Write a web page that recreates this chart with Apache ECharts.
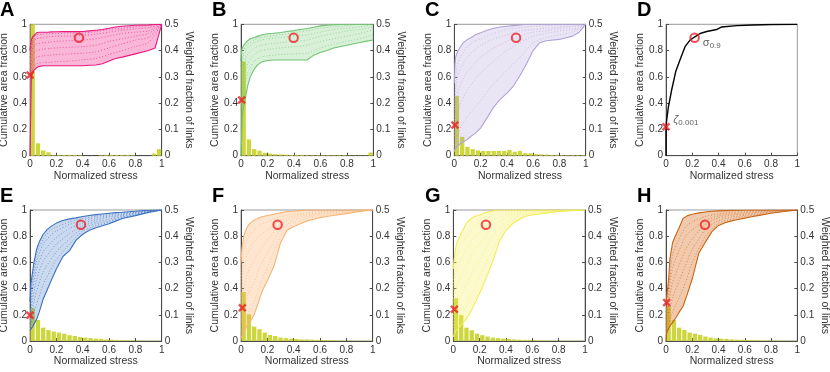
<!DOCTYPE html>
<html><head><meta charset="utf-8">
<script src="https://cdn.jsdelivr.net/npm/echarts@6/dist/echarts.min.js"></script>
<style>html,body{margin:0;padding:0;background:#fff}#c{width:830px;height:372px}</style>
</head><body><div id="c"></div>
<script>
// ---------- data ----------
const stress = [0,0.005,0.01,0.02,0.03,0.05,0.07,0.1,0.13,0.16,0.2,0.25,0.3,0.35,0.4,0.45,0.5,0.55,0.6,0.65,0.7,0.8,0.9,0.95,1];
const stressDotted = [0,0.02,0.05,0.1,0.15,0.2,0.3,0.4,0.5,0.6,0.7,0.8,0.9,1];
const binCenters = ['0.02','0.06','0.10','0.14','0.18','0.22','0.26','0.30','0.34','0.38','0.42','0.46','0.50','0.54','0.58','0.62','0.66','0.70','0.74','0.78','0.82','0.86','0.90','0.94','0.98'];

const lowerA = [0,0.3,0.6,0.63,0.65,0.67,0.68,0.685,0.685,0.685,0.685,0.685,0.685,0.685,0.685,0.688,0.69,0.7,0.72,0.74,0.75,0.775,0.8,0.82,1];
const upperA = [0.8,0.85,0.88,0.905,0.92,0.935,0.94,0.94,0.94,0.942,0.943,0.944,0.944,0.944,0.945,0.95,0.955,0.96,0.97,0.98,0.985,0.993,0.996,0.998,1];
const dotA1 = [0.6,0.66,0.7,0.71,0.71,0.715,0.72,0.73,0.74,0.77,0.8,0.83,0.86,1];
const dotA2 = [0.62,0.72,0.75,0.76,0.765,0.77,0.775,0.78,0.79,0.82,0.85,0.88,0.9,1];
const dotA3 = [0.65,0.77,0.8,0.81,0.815,0.82,0.825,0.83,0.84,0.87,0.89,0.91,0.93,1];
const dotA4 = [0.7,0.82,0.85,0.86,0.865,0.87,0.875,0.88,0.89,0.91,0.93,0.94,0.95,1];
const dotA5 = [0.75,0.86,0.89,0.9,0.905,0.91,0.91,0.915,0.925,0.94,0.955,0.965,0.975,1];
const dotA6 = [0.78,0.89,0.92,0.925,0.93,0.93,0.935,0.935,0.945,0.96,0.97,0.98,0.99,1];
const histA = [0.6,0.047,0.02,0.013,0.002,0.003,0.003,0.003,0.003,0.002,0,0,0,0.002,0.003,0.003,0.003,0.003,0.003,0.002,0,0,0,0.008,0.025];

const lowerB = [0,0.15,0.3,0.38,0.42,0.53,0.6,0.66,0.695,0.715,0.725,0.728,0.728,0.728,0.728,0.728,0.728,0.765,0.785,0.8,0.82,0.84,0.862,0.872,0.88];
const upperB = [0.72,0.8,0.82,0.84,0.855,0.875,0.89,0.9,0.91,0.92,0.928,0.932,0.938,0.945,0.952,0.96,0.968,0.978,0.988,0.994,0.997,1,1,1,1];
const dotB1 = [0.2,0.5,0.63,0.72,0.75,0.76,0.77,0.775,0.78,0.82,0.85,0.87,0.89,0.92];
const dotB2 = [0.35,0.6,0.7,0.77,0.8,0.81,0.82,0.83,0.84,0.87,0.89,0.91,0.93,0.96];
const dotB3 = [0.5,0.7,0.77,0.82,0.84,0.85,0.86,0.87,0.88,0.91,0.93,0.95,0.96,0.98];
const dotB4 = [0.6,0.76,0.82,0.86,0.88,0.89,0.9,0.91,0.92,0.94,0.96,0.97,0.98,1];
const dotB5 = [0.68,0.8,0.85,0.88,0.9,0.91,0.92,0.935,0.95,0.97,0.98,0.99,1,1];
const histB = [0.358,0.062,0.025,0.019,0.011,0.008,0.006,0.005,0.004,0.003,0.003,0.003,0.002,0.002,0.002,0.002,0.002,0.002,0.002,0.002,0.001,0.001,0.001,0.001,0.012];

const lowerC = [0.03,0.05,0.06,0.07,0.08,0.095,0.105,0.125,0.15,0.17,0.21,0.29,0.37,0.43,0.475,0.53,0.61,0.7,0.8,0.86,0.875,0.885,0.91,0.94,1];
const upperC = [0.55,0.7,0.75,0.78,0.8,0.835,0.86,0.885,0.9,0.92,0.935,0.955,0.97,0.98,0.985,0.99,0.995,1,1,1,1,1,1,1,1];
const dotC1 = [0.08,0.15,0.22,0.3,0.36,0.42,0.55,0.65,0.75,0.86,0.9,0.92,0.94,1];
const dotC2 = [0.15,0.3,0.4,0.5,0.57,0.63,0.72,0.8,0.86,0.91,0.93,0.95,0.96,1];
const dotC3 = [0.25,0.45,0.55,0.64,0.7,0.75,0.82,0.87,0.91,0.94,0.95,0.97,0.98,1];
const dotC4 = [0.35,0.58,0.67,0.75,0.8,0.84,0.89,0.92,0.95,0.96,0.97,0.98,0.99,1];
const dotC5 = [0.45,0.68,0.76,0.83,0.87,0.89,0.93,0.96,0.975,0.985,0.99,0.995,1,1];
const histC = [0.227,0.072,0.034,0.025,0.02,0.018,0.018,0.018,0.018,0.018,0.022,0.015,0.018,0.01,0.009,0.006,0.005,0.004,0.003,0.003,0.002,0.002,0.002,0.002,0.002];

const stressD = [0,0,0.005,0.018,0.043,0.074,0.107,0.145,0.183,0.22,0.26,0.31,0.386,0.424,0.54,0.66,0.8,1];
const curveD = [0,0.22,0.27,0.37,0.5,0.64,0.73,0.83,0.88,0.905,0.93,0.945,0.96,0.98,0.99,0.995,0.998,1];

const lowerE = [0.08,0.09,0.095,0.11,0.125,0.165,0.22,0.32,0.39,0.46,0.55,0.645,0.69,0.77,0.815,0.845,0.865,0.88,0.895,0.915,0.935,0.957,0.982,0.99,1];
const upperE = [0.3,0.42,0.46,0.53,0.6,0.7,0.755,0.815,0.85,0.875,0.9,0.92,0.932,0.94,0.95,0.958,0.965,0.97,0.975,0.98,0.983,0.99,0.998,1,1];
const dotE1 = [0.1,0.18,0.28,0.43,0.53,0.62,0.74,0.84,0.88,0.905,0.94,0.962,0.985,1];
const dotE2 = [0.13,0.25,0.38,0.53,0.61,0.68,0.78,0.86,0.895,0.915,0.947,0.967,0.988,1];
const dotE3 = [0.16,0.32,0.47,0.61,0.68,0.74,0.82,0.88,0.91,0.93,0.955,0.972,0.99,1];
const dotE4 = [0.2,0.39,0.55,0.68,0.74,0.79,0.86,0.9,0.925,0.945,0.962,0.977,0.993,1];
const dotE5 = [0.24,0.45,0.61,0.74,0.8,0.84,0.89,0.92,0.94,0.955,0.97,0.982,0.995,1];
const dotE6 = [0.27,0.5,0.66,0.78,0.84,0.87,0.91,0.935,0.953,0.965,0.977,0.986,0.997,1];
const histE = [0.125,0.08,0.051,0.042,0.036,0.032,0.028,0.022,0.019,0.015,0.013,0.011,0.009,0.008,0.006,0.005,0.004,0.003,0.003,0.002,0.002,0.001,0.001,0.001,0.001];

const lowerF = [0.02,0.03,0.04,0.065,0.085,0.125,0.15,0.2,0.29,0.38,0.46,0.57,0.75,0.845,0.872,0.895,0.917,0.93,0.942,0.95,0.958,0.972,0.988,0.995,1];
const upperF = [0.6,0.68,0.73,0.79,0.83,0.875,0.9,0.922,0.938,0.948,0.958,0.968,0.978,0.988,0.99,0.995,1,1,1,1,1,1,1,1,1];
const dotF1 = [0.05,0.12,0.2,0.3,0.45,0.56,0.8,0.9,0.935,0.955,0.968,0.98,0.99,1];
const dotF2 = [0.12,0.25,0.35,0.45,0.58,0.67,0.85,0.92,0.95,0.965,0.975,0.985,0.993,1];
const dotF3 = [0.2,0.4,0.52,0.62,0.7,0.77,0.89,0.94,0.96,0.972,0.982,0.99,0.996,1];
const dotF4 = [0.3,0.55,0.67,0.76,0.81,0.85,0.92,0.955,0.97,0.98,0.988,0.994,0.998,1];
const dotF5 = [0.45,0.68,0.78,0.85,0.89,0.91,0.95,0.97,0.98,0.988,0.993,0.997,1,1];
const histF = [0.187,0.102,0.055,0.045,0.032,0.023,0.019,0.013,0.011,0.009,0.008,0.006,0.006,0.005,0.004,0.004,0.003,0.003,0.002,0.001,0.001,0.001,0.001,0.001,0.001];

const lowerG = [0.03,0.045,0.055,0.08,0.09,0.11,0.135,0.17,0.22,0.28,0.365,0.48,0.61,0.76,0.845,0.895,0.928,0.952,0.962,0.97,0.976,0.988,0.995,0.998,1];
const upperG = [0.55,0.61,0.65,0.72,0.76,0.8,0.84,0.9,0.93,0.95,0.962,0.982,0.993,1,1,1,1,1,1,1,1,1,1,1,1];
const dotG1 = [0.05,0.12,0.18,0.27,0.38,0.49,0.7,0.88,0.94,0.97,0.982,0.99,0.997,1];
const dotG2 = [0.1,0.25,0.33,0.43,0.53,0.62,0.8,0.91,0.955,0.975,0.986,0.993,0.998,1];
const dotG3 = [0.2,0.4,0.48,0.58,0.67,0.74,0.87,0.94,0.97,0.983,0.99,0.996,1,1];
const dotG4 = [0.3,0.52,0.61,0.7,0.78,0.84,0.92,0.96,0.98,0.99,0.995,0.998,1,1];
const dotG5 = [0.42,0.62,0.71,0.8,0.87,0.9,0.96,0.98,0.99,0.995,1,1,1,1];
const histG = [0.163,0.099,0.051,0.041,0.028,0.022,0.017,0.013,0.011,0.009,0.008,0.006,0.005,0.004,0.004,0.003,0.002,0.002,0.001,0.001,0.001,0.001,0.001,0.001,0.001];

const lowerH = [0,0.06,0.075,0.095,0.115,0.14,0.17,0.22,0.265,0.35,0.475,0.67,0.755,0.835,0.882,0.903,0.917,0.928,0.938,0.948,0.957,0.975,0.988,0.995,1];
const upperH = [0.3,0.33,0.38,0.47,0.63,0.75,0.8,0.865,0.935,0.955,0.968,0.978,0.985,0.99,0.993,0.995,0.997,0.998,1,1,1,1,1,1,1];
const dotH1 = [0.04,0.13,0.22,0.33,0.45,0.6,0.8,0.9,0.93,0.95,0.965,0.98,0.99,1];
const dotH2 = [0.08,0.2,0.33,0.46,0.58,0.7,0.85,0.92,0.945,0.96,0.972,0.985,0.993,1];
const dotH3 = [0.12,0.27,0.45,0.58,0.7,0.78,0.89,0.94,0.96,0.97,0.98,0.99,0.995,1];
const dotH4 = [0.17,0.34,0.56,0.69,0.8,0.85,0.92,0.955,0.97,0.98,0.987,0.993,0.997,1];
const dotH5 = [0.22,0.4,0.66,0.78,0.87,0.91,0.95,0.97,0.982,0.99,0.994,0.997,1,1];
const histH = [0.131,0.08,0.051,0.042,0.032,0.028,0.023,0.017,0.013,0.01,0.009,0.008,0.006,0.005,0.005,0.004,0.004,0.003,0.002,0.002,0.001,0.001,0.001,0.001,0.001];

// markers [stress, cumulative fraction]
const sigmaA = [0.372,0.898], zetaA = [0,0.614];
const sigmaB = [0.398,0.898], zetaB = [0.005,0.424];
const sigmaC = [0.47,0.898],  zetaC = [0.005,0.234];
const sigmaD = [0.218,0.898], zetaD = [0,0.22];
const sigmaE = [0.387,0.888], zetaE = [0,0.196];
const sigmaF = [0.278,0.888], zetaF = [0.01,0.254];
const sigmaG = [0.248,0.888], zetaG = [0.008,0.242];
const sigmaH = [0.297,0.888], zetaH = [0.005,0.293];

// ---------- layout & styles ----------
const FONT = '"Liberation Sans", Arial, Helvetica, sans-serif';
const BAR = '#cdd63c';
const RED = '#ec2127';
const TXT = '#333';
const AX = '#4a4a4a';
const CROSS = 'path://M2,0 L5,3 L8,0 L10,2 L7,5 L10,8 L8,10 L5,7 L2,10 L0,8 L3,5 L0,2 Z';

const panels = [
  {id:'A', left:30,  top:24.3, w:131.7, h:131.4, lx:0,   ly:0,   lower:lowerA, upper:upperA, dots:[dotA1,dotA2,dotA3,dotA4,dotA5,dotA6], hist:histA, sigma:sigmaA, zeta:zetaA, line:'#e8197f', fill:'rgba(240,80,160,0.42)'},
  {id:'B', left:241, top:24.3, w:132.3, h:131.4, lx:212, ly:0,   lower:lowerB, upper:upperB, dots:[dotB1,dotB2,dotB3,dotB4,dotB5], hist:histB, sigma:sigmaB, zeta:zetaB, line:'#6fc46f', fill:'rgba(110,200,110,0.27)'},
  {id:'C', left:454.3,top:24.3,w:131.4, h:131.4, lx:425, ly:0,   lower:lowerC, upper:upperC, dots:[dotC1,dotC2,dotC3,dotC4,dotC5], hist:histC, sigma:sigmaC, zeta:zetaC, line:'#b2a3d8', fill:'rgba(170,150,215,0.25)'},
  {id:'D', left:666, top:24.3, w:131.3, h:131.4, lx:637, ly:0,   curveX:stressD, curveY:curveD, sigma:sigmaD, zeta:zetaD},
  {id:'E', left:30,  top:210,  w:131.7, h:131,   lx:0,   ly:186, lower:lowerE, upper:upperE, dots:[dotE1,dotE2,dotE3,dotE4,dotE5,dotE6], hist:histE, sigma:sigmaE, zeta:zetaE, line:'#3a70c2', fill:'rgba(80,130,200,0.3)'},
  {id:'F', left:241, top:210,  w:131.7, h:131,   lx:212, ly:186, lower:lowerF, upper:upperF, dots:[dotF1,dotF2,dotF3,dotF4,dotF5], hist:histF, sigma:sigmaF, zeta:zetaF, line:'#f8b473', fill:'rgba(250,170,100,0.3)'},
  {id:'G', left:453.3,top:210, w:131.7, h:131,   lx:425, ly:186, lower:lowerG, upper:upperG, dots:[dotG1,dotG2,dotG3,dotG4,dotG5], hist:histG, sigma:sigmaG, zeta:zetaG, line:'#f3ec55', fill:'rgba(245,238,90,0.3)'},
  {id:'H', left:666, top:210,  w:131.3, h:131,   lx:637, ly:186, lower:lowerH, upper:upperH, dots:[dotH1,dotH2,dotH3,dotH4,dotH5], hist:histH, sigma:sigmaH, zeta:zetaH, line:'#c86414', fill:'rgba(220,120,50,0.4)'}
];

const grid=[], xAxis=[], yAxis=[], series=[], title=[];
const lbl = {fontSize:10, color:TXT, fontFamily:FONT};
const nameStyle = {fontSize:10.5, color:TXT, fontFamily:FONT};

panels.forEach((p,i)=>{
  grid.push({left:p.left, top:p.top, width:p.w, height:p.h, show:true, borderColor:'#999', borderWidth:1, backgroundColor:'rgba(0,0,0,0)', containLabel:false, outerBoundsMode:'none'});
  title.push({text:p.id, left:p.lx, top:p.ly, padding:0, textStyle:{fontSize:20, fontWeight:'bold', color:'#000', fontFamily:FONT}});
  const xi = xAxis.length, yi = yAxis.length;
  xAxis.push({type:'value', gridIndex:i, min:0, max:1, interval:0.2,
    name:'Normalized stress', nameLocation:'middle', nameGap:15, nameTextStyle:nameStyle,
    axisLine:{show:true, onZero:false, lineStyle:{color:AX}}, axisTick:{show:true, inside:true, length:3, lineStyle:{color:AX}},
    axisLabel:Object.assign({margin:4}, lbl), splitLine:{show:false}});
  yAxis.push({type:'value', gridIndex:i, min:0, max:1, interval:0.2,
    name:'Cumulative area fraction', nameLocation:'middle', nameGap:18, nameRotate:90, nameTextStyle:nameStyle,
    axisLine:{show:true, lineStyle:{color:AX}}, axisTick:{show:true, inside:true, length:3, lineStyle:{color:AX}},
    axisLabel:Object.assign({margin:3}, lbl), splitLine:{show:false}});
  if (p.hist) {
    xAxis.push({type:'category', gridIndex:i, data:binCenters, show:false, boundaryGap:true});
    yAxis.push({type:'value', gridIndex:i, position:'right', min:0, max:0.5, interval:0.1,
      name:'Weighted fraction of links', nameLocation:'middle', nameGap:22, nameRotate:-90, nameTextStyle:nameStyle,
      axisLine:{show:true, lineStyle:{color:AX}}, axisTick:{show:true, inside:true, length:3, lineStyle:{color:AX}},
      axisLabel:Object.assign({margin:3}, lbl), splitLine:{show:false}});
    series.push({type:'bar', xAxisIndex:xi+1, yAxisIndex:yi+1, data:p.hist, barCategoryGap:'18%',
      itemStyle:{color:BAR}, z:1, silent:true});
    // band polygon: upper forward then lower backward
    const poly = stress.map((x,k)=>[x,p.upper[k]]).concat(stress.map((x,k)=>[x,p.lower[k]]).reverse());
    series.push({type:'custom', xAxisIndex:xi, yAxisIndex:yi, data:poly, z:2, silent:true,
      renderItem:(params, api)=>{
        if (params.dataIndex !== 0) return null;
        return {type:'polygon', shape:{points:poly.map(d=>api.coord(d))}, style:{fill:p.fill}};
      }});
    p.dots.forEach(d=>{
      series.push({type:'line', xAxisIndex:xi, yAxisIndex:yi, symbol:'none', smooth:0.2,
        data:stressDotted.map((x,k)=>[x,d[k]]), lineStyle:{color:p.line, width:1, type:[1,2], opacity:0.6}, z:3, silent:true});
    });
    series.push({type:'line', xAxisIndex:xi, yAxisIndex:yi, symbol:'none',
      data:stress.map((x,k)=>[x,p.lower[k]]), lineStyle:{color:p.line, width:1.1}, z:4, silent:true});
    series.push({type:'line', xAxisIndex:xi, yAxisIndex:yi, symbol:'none',
      data:stress.map((x,k)=>[x,p.upper[k]]), lineStyle:{color:p.line, width:1.1}, z:4, silent:true});
  } else {
    series.push({type:'line', xAxisIndex:xi, yAxisIndex:yi, symbol:'none',
      data:p.curveX.map((x,k)=>[x,p.curveY[k]]), lineStyle:{color:'#000', width:1.4}, z:3, silent:true});
  }
  const isD = !p.hist;
  series.push({type:'scatter', xAxisIndex:xi, yAxisIndex:yi, data:[p.sigma], symbol:'circle', symbolSize:8.5, clip:false,
    itemStyle:{color:'rgba(255,255,255,0)', borderColor:RED, borderWidth:2}, z:10, silent:true,
    label: isD ? {show:true, position:'right', distance:3, offset:[0,6], formatter:'{a|σ}{b|0.9}',
      rich:{a:{fontSize:11, color:TXT, fontFamily:FONT, lineHeight:12, verticalAlign:'top'}, b:{fontSize:8, color:TXT, fontFamily:FONT, lineHeight:8, verticalAlign:'bottom', padding:[7,0,0,0]}}} : {show:false}});
  series.push({type:'scatter', xAxisIndex:xi, yAxisIndex:yi, data:[p.zeta], symbol:CROSS, symbolSize:8.5, clip:false,
    itemStyle:{color:RED}, z:10, silent:true,
    label: isD ? {show:true, position:'right', distance:3, offset:[0,-6], formatter:'{a|ζ}{b|0.001}',
      rich:{a:{fontSize:11, color:TXT, fontFamily:FONT, lineHeight:12, verticalAlign:'top', fontStyle:'italic'}, b:{fontSize:8, color:TXT, fontFamily:FONT, lineHeight:8, verticalAlign:'bottom', padding:[7,0,0,0]}}} : {show:false}});
});

const chart = echarts.init(document.getElementById('c'), null, {renderer:'canvas'});
chart.setOption({animation:false, backgroundColor:'#fff', title, grid, xAxis, yAxis, series});
</script></body></html>
